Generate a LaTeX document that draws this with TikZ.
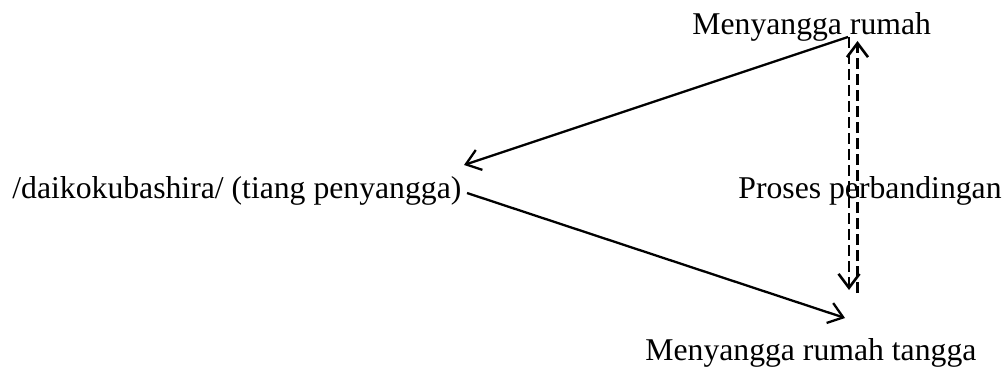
\documentclass[tikz,border=0pt]{standalone}
\usepackage{fontspec}
\setmainfont{Liberation Serif}
\usetikzlibrary{arrows.meta}
\begin{document}
\begin{tikzpicture}[x=0.5pt,y=-0.5pt,
  lbl/.style={anchor=base west,inner sep=0pt,font=\fontsize{15.85}{19}\selectfont},
  conn/.style={line width=1.15pt,-{Straight Barb[length=7pt,width=10.5pt]}},
  dconn/.style={conn,line width=1.3pt,dash pattern=on 5.5pt off 2.5pt}]
\useasboundingbox (0,0) rectangle (1005,369);
\node[lbl] (top) at (692,35) {Menyangga rumah};
\node[lbl] (left) at (12,198) {/daikokubashira/ (tiang penyangga)};
\node[lbl] (mid) at (738,198) {Proses perbandingan};
\node[lbl] (bot) at (645,360) {Menyangga rumah tangga};
\coordinate (a1) at (848,37);
\coordinate (a2) at (464,165);
\coordinate (b1) at (467,193);
\coordinate (b2) at (845,318);
\coordinate (c1) at (849,37);
\coordinate (c2) at (849,290);
\coordinate (d1) at (857.5,293);
\coordinate (d2) at (857.5,41);
\draw[conn] (a1) -- (a2);
\draw[conn] (b1) -- (b2);
\draw[dconn] (c1) -- (c2);
\draw[dconn] (d1) -- (d2);
\end{tikzpicture}
\end{document}
